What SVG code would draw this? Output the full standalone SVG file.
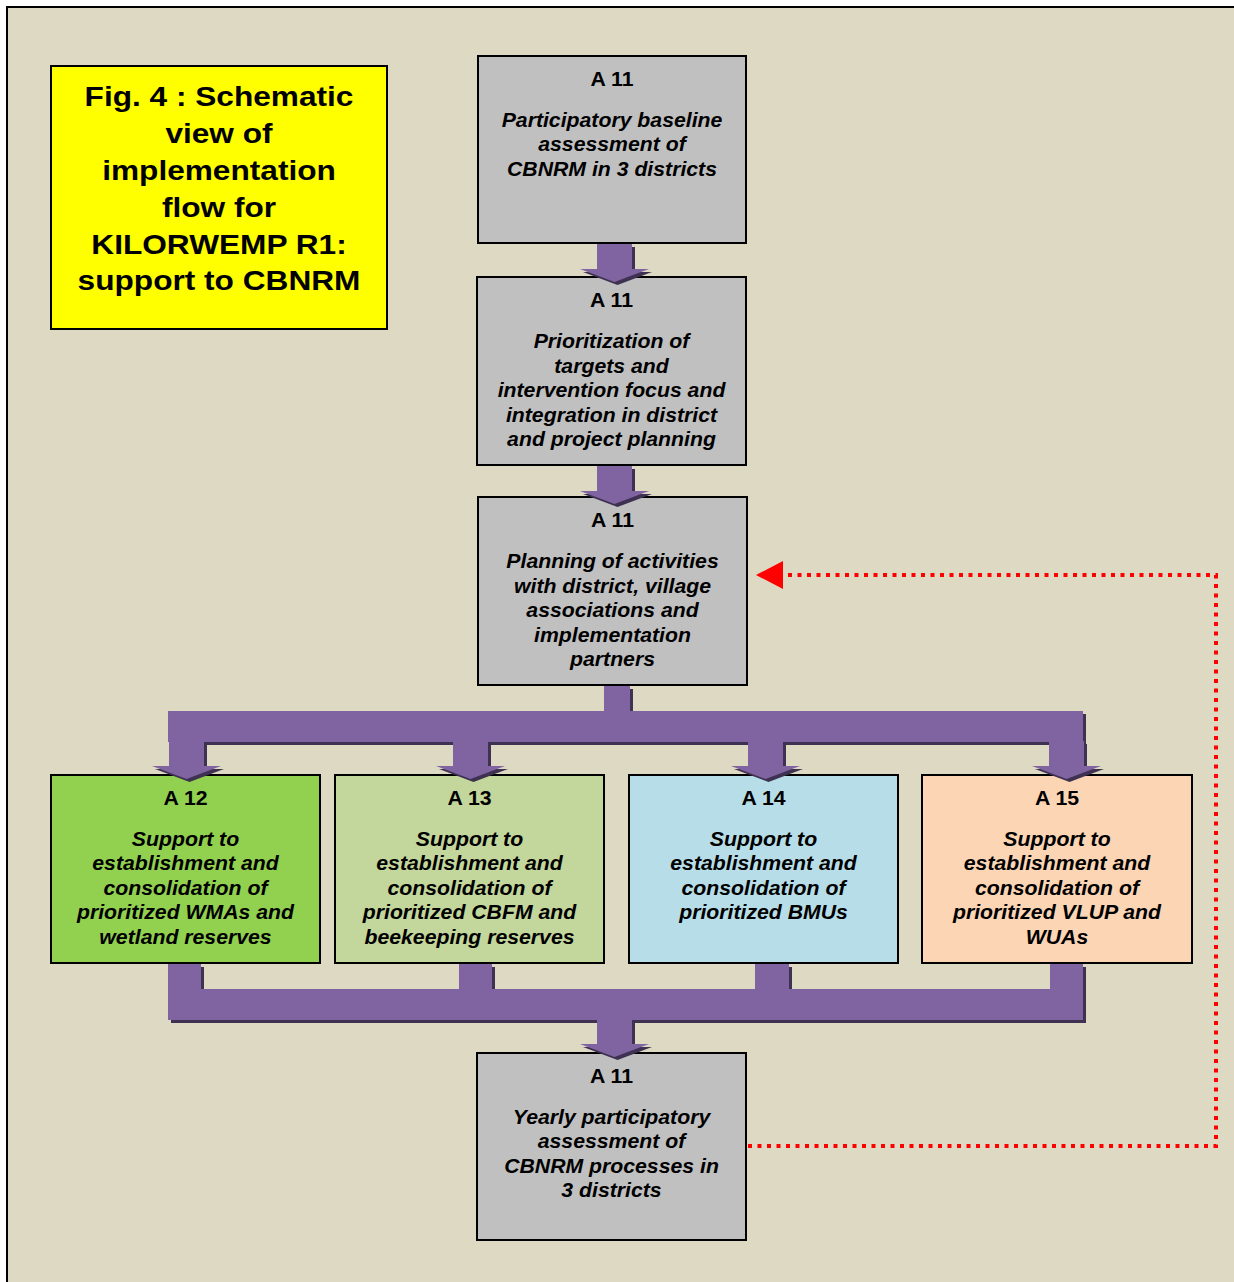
<svg xmlns="http://www.w3.org/2000/svg" xmlns:xlink="http://www.w3.org/1999/xlink" width="1234" height="1282" viewBox="0 0 1234 1282">
  <style>
    .box { stroke: #000; stroke-width: 2; }
    .grey { fill: #c0c0c0; }
    .t { font-family: "Liberation Sans", Arial, sans-serif; font-size: 19.5px; fill: #000; text-anchor: middle; }
    .hd { font-weight: bold; }
    .bd { font-weight: bold; font-style: italic; }
    .title { font-family: "Liberation Sans", Arial, sans-serif; font-size: 28px; font-weight: bold; fill: #000; text-anchor: middle; }
    .flow { fill: #8064a2; }
    .shade { fill: #3f3151; }
    .loop { fill: none; stroke: #ff0000; stroke-width: 4; stroke-dasharray: 4 5.5; }
  </style>
  <defs>
    <!-- block arrow pointing down, origin at top centre of the shaft -->
    <path id="dn" d="M-17.5,0 H17.5 V25 H34.5 L0,38 L-34.5,25 H-17.5 Z"/>
    <marker id="redHead" viewBox="0 0 27 28" refX="0" refY="14" markerWidth="27" markerHeight="28" markerUnits="userSpaceOnUse" orient="auto">
      <path d="M0,0 L27,14 L0,28 Z" fill="#ff0000"/>
    </marker>
  </defs>

  <!-- page and frame -->
  <rect x="0" y="0" width="1234" height="1282" fill="#ffffff"/>
  <rect x="7" y="7" width="1300" height="1300" fill="#ddd9c3" stroke="#000" stroke-width="2"/>

  <!-- title -->
  <g id="title">
    <rect class="box" x="51" y="66" width="336" height="263" fill="#ffff00"/>
    <g transform="translate(219 0) scale(1.13 1)">
      <text class="title" x="0" y="106">Fig. 4 : Schematic</text>
      <text class="title" x="0" y="143">view of</text>
      <text class="title" x="0" y="180">implementation</text>
      <text class="title" x="0" y="217">flow for</text>
      <text class="title" x="0" y="254">KILORWEMP R1:</text>
      <text class="title" x="0" y="290">support to CBNRM</text>
    </g>
  </g>

  <!-- nodes -->
  <g id="a11-baseline">
    <rect class="box grey" x="478" y="56" width="268" height="187"/>
    <g transform="translate(612 0) scale(1.09 1)">
      <text class="t hd" x="0" y="86">A 11</text>
      <text class="t bd" x="0" y="127">Participatory baseline</text>
      <text class="t bd" x="0" y="151">assessment of</text>
      <text class="t bd" x="0" y="176">CBNRM in 3 districts</text>
    </g>
  </g>

  <g id="a11-prioritization">
    <rect class="box grey" x="477" y="277" width="269" height="188"/>
    <g transform="translate(611.5 0) scale(1.09 1)">
      <text class="t hd" x="0" y="307">A 11</text>
      <text class="t bd" x="0" y="348">Prioritization of</text>
      <text class="t bd" x="0" y="373">targets and</text>
      <text class="t bd" x="0" y="397">intervention focus and</text>
      <text class="t bd" x="0" y="422">integration in district</text>
      <text class="t bd" x="0" y="446">and project planning</text>
    </g>
  </g>

  <g id="a11-planning">
    <rect class="box grey" x="478" y="497" width="269" height="188"/>
    <g transform="translate(612.5 0) scale(1.09 1)">
      <text class="t hd" x="0" y="527">A 11</text>
      <text class="t bd" x="0" y="568">Planning of activities</text>
      <text class="t bd" x="0" y="593">with district, village</text>
      <text class="t bd" x="0" y="617">associations and</text>
      <text class="t bd" x="0" y="642">implementation</text>
      <text class="t bd" x="0" y="666">partners</text>
    </g>
  </g>

  <g id="a12">
    <rect class="box" x="51" y="775" width="269" height="188" fill="#92d050"/>
    <g transform="translate(185.5 0) scale(1.09 1)">
      <text class="t hd" x="0" y="805">A 12</text>
      <text class="t bd" x="0" y="846">Support to</text>
      <text class="t bd" x="0" y="870">establishment and</text>
      <text class="t bd" x="0" y="895">consolidation of</text>
      <text class="t bd" x="0" y="919">prioritized WMAs and</text>
      <text class="t bd" x="0" y="944">wetland reserves</text>
    </g>
  </g>

  <g id="a13">
    <rect class="box" x="335" y="775" width="269" height="188" fill="#c3d69b"/>
    <g transform="translate(469.5 0) scale(1.09 1)">
      <text class="t hd" x="0" y="805">A 13</text>
      <text class="t bd" x="0" y="846">Support to</text>
      <text class="t bd" x="0" y="870">establishment and</text>
      <text class="t bd" x="0" y="895">consolidation of</text>
      <text class="t bd" x="0" y="919">prioritized CBFM and</text>
      <text class="t bd" x="0" y="944">beekeeping reserves</text>
    </g>
  </g>

  <g id="a14">
    <rect class="box" x="629" y="775" width="269" height="188" fill="#b7dee8"/>
    <g transform="translate(763.5 0) scale(1.09 1)">
      <text class="t hd" x="0" y="805">A 14</text>
      <text class="t bd" x="0" y="846">Support to</text>
      <text class="t bd" x="0" y="870">establishment and</text>
      <text class="t bd" x="0" y="895">consolidation of</text>
      <text class="t bd" x="0" y="919">prioritized BMUs</text>
    </g>
  </g>

  <g id="a15">
    <rect class="box" x="922" y="775" width="270" height="188" fill="#fcd5b5"/>
    <g transform="translate(1057 0) scale(1.09 1)">
      <text class="t hd" x="0" y="805">A 15</text>
      <text class="t bd" x="0" y="846">Support to</text>
      <text class="t bd" x="0" y="870">establishment and</text>
      <text class="t bd" x="0" y="895">consolidation of</text>
      <text class="t bd" x="0" y="919">prioritized VLUP and</text>
      <text class="t bd" x="0" y="944">WUAs</text>
    </g>
  </g>

  <g id="a11-yearly">
    <rect class="box grey" x="477" y="1053" width="269" height="187"/>
    <g transform="translate(611.5 0) scale(1.09 1)">
      <text class="t hd" x="0" y="1083">A 11</text>
      <text class="t bd" x="0" y="1124">Yearly participatory</text>
      <text class="t bd" x="0" y="1148">assessment of</text>
      <text class="t bd" x="0" y="1173">CBNRM processes in</text>
      <text class="t bd" x="0" y="1197">3 districts</text>
    </g>
  </g>

  <!-- connectors -->
  <g id="connectors">
    <!-- shadows -->
    <g class="shade" transform="translate(3 3)">
      <use xlink:href="#dn" x="614.5" y="244"/>
      <use xlink:href="#dn" x="614.5" y="466"/>
      <rect x="604" y="686" width="26" height="26"/>
      <rect x="168" y="711" width="915" height="31"/>
      <use xlink:href="#dn" x="186.5" y="741"/>
      <use xlink:href="#dn" x="470.5" y="741"/>
      <use xlink:href="#dn" x="765.5" y="741"/>
      <use xlink:href="#dn" x="1066.5" y="741"/>
      <rect x="168" y="964" width="33" height="26"/>
      <rect x="459" y="964" width="33" height="26"/>
      <rect x="755" y="964" width="34" height="26"/>
      <rect x="1050" y="964" width="33" height="26"/>
      <rect x="168" y="989" width="915" height="31"/>
      <use xlink:href="#dn" x="614.5" y="1019"/>
    </g>
    <!-- flow arrows and bars -->
    <g class="flow">
      <use xlink:href="#dn" x="614.5" y="244"/>
      <use xlink:href="#dn" x="614.5" y="466"/>
      <rect x="604" y="686" width="26" height="26"/>
      <rect x="168" y="711" width="915" height="31"/>
      <use xlink:href="#dn" x="186.5" y="741"/>
      <use xlink:href="#dn" x="470.5" y="741"/>
      <use xlink:href="#dn" x="765.5" y="741"/>
      <use xlink:href="#dn" x="1066.5" y="741"/>
      <rect x="168" y="964" width="33" height="26"/>
      <rect x="459" y="964" width="33" height="26"/>
      <rect x="755" y="964" width="34" height="26"/>
      <rect x="1050" y="964" width="33" height="26"/>
      <rect x="168" y="989" width="915" height="31"/>
      <use xlink:href="#dn" x="614.5" y="1019"/>
    </g>
    <!-- yearly feedback loop -->
    <path class="loop" d="M748,1146 H1216 V575 H783" marker-end="url(#redHead)"/>
  </g>
</svg>
